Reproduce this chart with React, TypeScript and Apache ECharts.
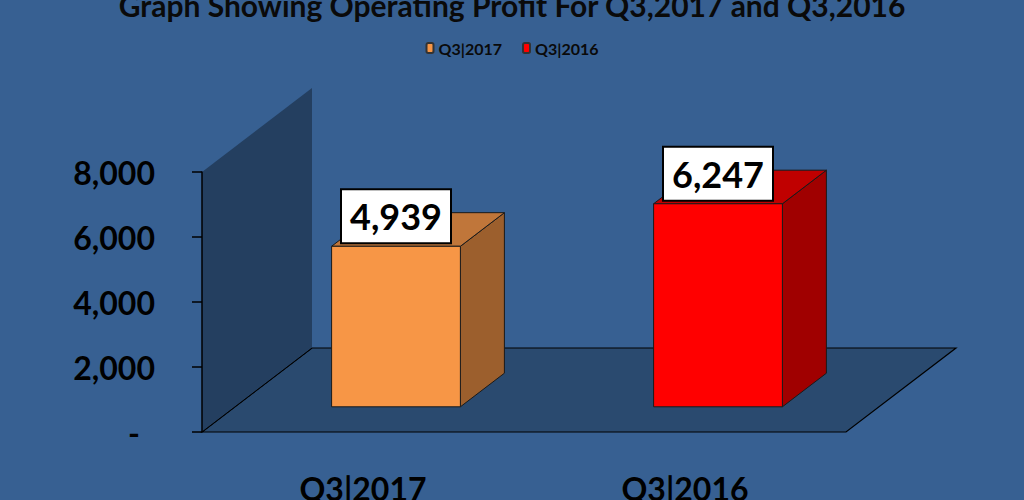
import React, { useEffect, useRef } from "react";
import * as echarts from "echarts";

const categories = ["Q3|2017", "Q3|2016"];
const values = [4939, 6247];
const yTicks = [0, 2000, 4000, 6000, 8000];
const titleText = "Graph Showing Operating Profit For Q3,2017 and Q3,2016";

const FONT = "Lato, 'Open Sans', sans-serif";
const DX = 110;
const DY = -84;

const fmt = (v: number) => v.toLocaleString("en-US");

function makeBar(face: string, side: string, top: string) {
  return (params: any, api: any) => {
    const idx = api.value(0);
    const val = api.value(1);
    const pTop = api.coord([idx, val]);
    const pBase = api.coord([idx, 0]);
    const band = api.size([1, 0])[0];
    const w = band * 0.4;
    const fx = pTop[0] - w / 2 + 0.3 * DX;
    const fTop = pTop[1] + 0.3 * DY;
    const fBot = pBase[1] + 0.3 * DY;
    const bdx = 0.4 * DX;
    const bdy = 0.4 * DY;
    const stroke = { stroke: "#1a1a1a", lineWidth: 1 };
    const cx = fx + w / 2;
    return {
      type: "group",
      children: [
        {
          type: "polygon",
          shape: { points: [[fx + w, fTop], [fx + w + bdx, fTop + bdy], [fx + w + bdx, fBot + bdy], [fx + w, fBot]] },
          style: { fill: side, ...stroke },
        },
        {
          type: "polygon",
          shape: { points: [[fx, fTop], [fx + bdx, fTop + bdy], [fx + w + bdx, fTop + bdy], [fx + w, fTop]] },
          style: { fill: top, ...stroke },
        },
        {
          type: "rect",
          shape: { x: fx, y: fTop, width: w, height: fBot - fTop },
          style: { fill: face, ...stroke },
        },
        {
          type: "rect",
          shape: { x: cx - 55, y: fTop - 57, width: 110, height: 54 },
          style: { fill: "#ffffff", stroke: "#000", lineWidth: 2 },
        },
        {
          type: "text",
          x: cx,
          y: fTop - 30,
          style: {
            text: fmt(val),
            font: `bold 36px ${FONT}`,
            fill: "#000",
            align: "center",
            verticalAlign: "middle",
          },
        },
      ],
    };
  };
}

const renderStage = (params: any, api: any) => {
  const cs = params.coordSys;
  const L = cs.x;
  const T = cs.y;
  const B = cs.y + cs.height;
  const R = cs.x + cs.width;
  return {
    type: "group",
    children: [
      {
        type: "polygon",
        shape: { points: [[L, B], [L + DX, B + DY], [R + DX, B + DY], [R, B]] },
        style: { fill: "#2a4a6f", stroke: "#000", lineWidth: 1.2 },
      },
      {
        type: "polygon",
        shape: { points: [[L, B], [L, T], [L + DX, T + DY], [L + DX, B + DY]] },
        style: { fill: "#243f60", stroke: "none" },
      },
      {
        type: "line",
        shape: { x1: L, y1: B, x2: L + DX, y2: B + DY },
        style: { stroke: "#000", lineWidth: 1 },
      },
    ],
  };
};

export default function App() {
  const ref = useRef<HTMLDivElement>(null);
  useEffect(() => {
    if (!ref.current) return;
    const chart = echarts.init(ref.current, undefined, { renderer: "svg" });
    chart.setOption({
      animation: false,
      backgroundColor: "#376092",
      title: {
        text: titleText,
        left: "center",
        top: -10,
        padding: 0,
        textStyle: { fontFamily: FONT, fontWeight: "bold", fontSize: 30, color: "#0a0a0a" },
      },
      legend: {
        data: categories,
        top: 35,
        left: "center",
        itemWidth: 7,
        itemHeight: 10,
        itemGap: 20,
        textStyle: { fontFamily: FONT, fontWeight: "bold", fontSize: 16, color: "#0a0a0a" },
      },
      grid: { left: 202, right: 178, top: 172, bottom: 68, containLabel: false, outerBoundsMode: "none" },
      xAxis: {
        type: "category",
        data: categories,
        axisLine: { show: false },
        axisTick: { show: false },
        axisLabel: {
          margin: 40,
          verticalAlign: "top",
          fontFamily: FONT,
          fontWeight: "bold",
          fontSize: 32,
          color: "#000",
        },
      },
      yAxis: {
        type: "value",
        min: yTicks[0],
        max: yTicks[yTicks.length - 1],
        interval: 2000,
        splitLine: { show: false },
        axisLine: { show: true, lineStyle: { color: "#000", width: 1.5 } },
        axisTick: { show: true, length: 10, lineStyle: { color: "#000", width: 1.5 } },
        axisLabel: {
          margin: 47,
          fontFamily: FONT,
          fontWeight: "bold",
          fontSize: 32,
          color: "#000",
          formatter: (v: number) => (v === 0 ? "{z|-}" : fmt(v)),
          rich: { z: { fontFamily: FONT, fontWeight: "bold", fontSize: 32, color: "#000", padding: [0, 15, 0, 0] } },
        },
      },
      series: [
        {
          type: "custom",
          name: "stage",
          z: -1,
          silent: true,
          renderItem: renderStage,
          data: [[0, 0]],
        },
        {
          type: "custom",
          name: categories[0],
          itemStyle: { color: "#f79646", borderColor: "#333", borderWidth: 1 },
          renderItem: makeBar("#f79646", "#9c5f2d", "#c0763a"),
          data: [[0, values[0]]],
        },
        {
          type: "custom",
          name: categories[1],
          itemStyle: { color: "#ff0000", borderColor: "#333", borderWidth: 1 },
          renderItem: makeBar("#ff0000", "#a00000", "#c00000"),
          data: [[1, values[1]]],
        },
      ],
    });
    return () => chart.dispose();
  }, []);
  return <div ref={ref} style={{ width: 1024, height: 500, position: "absolute", left: 0, top: 0 }} />;
}
